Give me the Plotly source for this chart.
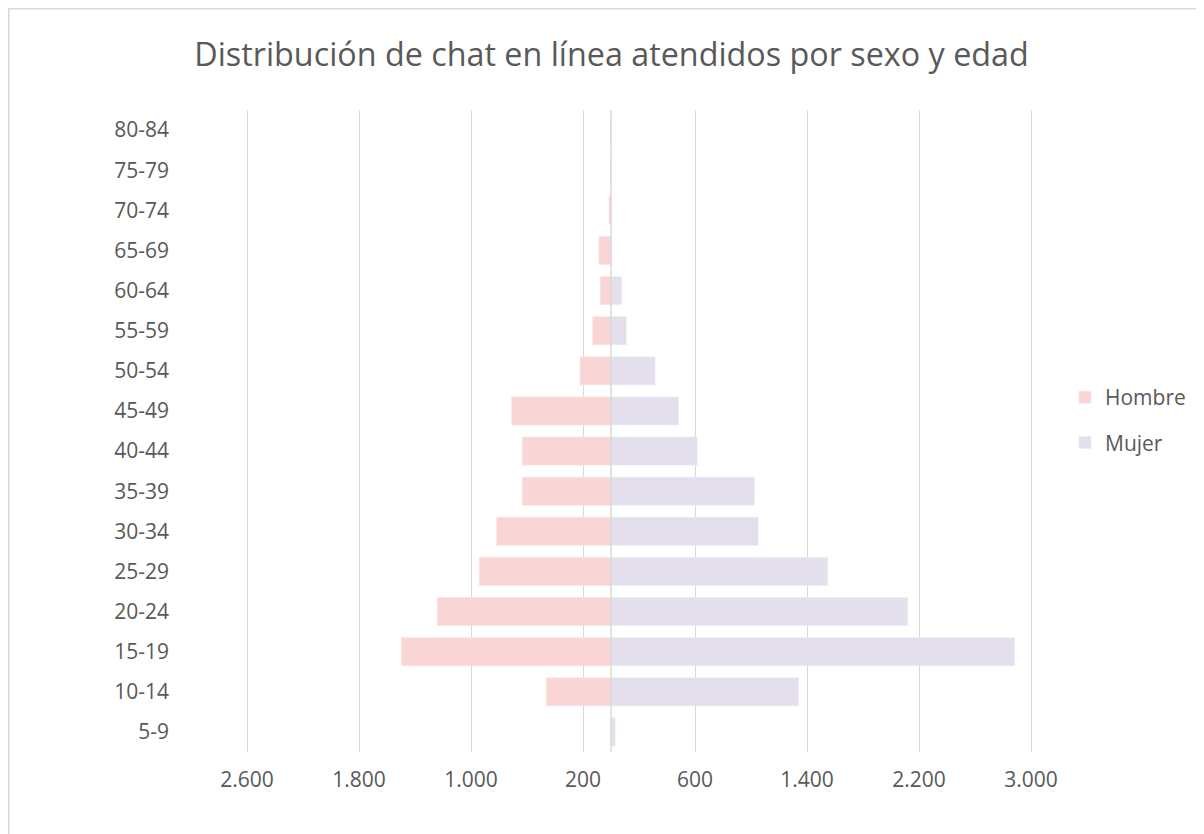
import plotly.graph_objects as go

age_groups = ["5-9", "10-14", "15-19", "20-24", "25-29", "30-34", "35-39", "40-44",
              "45-49", "50-54", "55-59", "60-64", "65-69", "70-74", "75-79", "80-84"]
hombre = [0, 462, 1498, 1241, 941, 817, 634, 634, 710, 221, 131, 76, 86, 14, 0, 0]
mujer = [30, 1340, 2883, 2119, 1547, 1052, 1024, 616, 481, 314, 109, 76, 0, 0, 0, 0]
tick_values = [-2600, -1800, -1000, -200, 600, 1400, 2200, 3000]
tick_labels = ["2.600", "1.800", "1.000", "200", "600", "1.400", "2.200", "3.000"]

title_text = "Distribución de chat en línea atendidos por sexo y edad"
font_family = "Open Sans, Liberation Sans, sans-serif"
text_color = "#595959"
grid_color = "#D9D9D9"

fig = go.Figure()
fig.add_trace(go.Bar(
    y=age_groups, x=[-v for v in hombre], orientation="h", name="Hombre",
    marker=dict(color="#FAD5D5", line=dict(width=0.6, color="#FCE3E3")),
    legendgroup="h",
))
fig.add_trace(go.Bar(
    y=age_groups, x=mujer, orientation="h", name="Mujer",
    marker=dict(color="#E4DFEC", line=dict(width=0.6, color="#EEEBF3")),
    legendgroup="m",
))

OFF = 8  # page body margin (screen = figure + OFF)
W, H = 1204, 834
# plot area in screen pixels (range padded 50 units = 7 px on each side)
Ls, Rs, Ts, Bs = 240, 1038, 110, 752
L, R, T, B = Ls - OFF, Rs - OFF, Ts - OFF, Bs - OFF
pw, ph = R - L, B - T

def px_x(xs):
    return (xs - Ls) / pw

def px_y(ys):
    return (Bs - ys) / ph

fig.update_layout(
    width=W, height=H,
    barmode="relative", bargap=0.3,
    plot_bgcolor="white", paper_bgcolor="white",
    margin=dict(l=L, r=W - R, t=T, b=H - B),
    font=dict(family=font_family, color=text_color, size=21),
    title=dict(text=title_text, x=(611.5 - OFF) / W, xanchor="center",
               y=1 - (55 - OFF) / H, yanchor="middle", yref="container",
               font=dict(size=32.3, color=text_color, family=font_family)),
    xaxis=dict(range=[-2650, 3050], tickvals=tick_values, ticktext=tick_labels,
               showgrid=True, gridcolor=grid_color, gridwidth=1.3,
               zeroline=False, showline=False, ticks="",
               ticklabelstandoff=13, tickfont=dict(size=21)),
    yaxis=dict(categoryorder="array", categoryarray=age_groups,
               showgrid=False, zeroline=False, showline=False, ticks="",
               ticklabelstandoff=70, tickfont=dict(size=21)),
    legend=dict(x=px_x(1065), xanchor="left", y=px_y(420), yanchor="middle",
                traceorder="grouped", tracegroupgap=15,
                font=dict(size=21, color=text_color),
                bgcolor="rgba(0,0,0,0)"),
    shapes=[
        dict(type="line", xref="x", yref="paper", x0=0, x1=0, y0=0, y1=1,
             line=dict(color=grid_color, width=1.5), layer="above"),
        dict(type="rect", xref="paper", yref="paper",
             x0=px_x(8.8), x1=px_x(1230), y0=px_y(860), y1=px_y(8.8),
             line=dict(color=grid_color, width=1.5), layer="below"),
    ],
)

fig.write_html("out.html")
